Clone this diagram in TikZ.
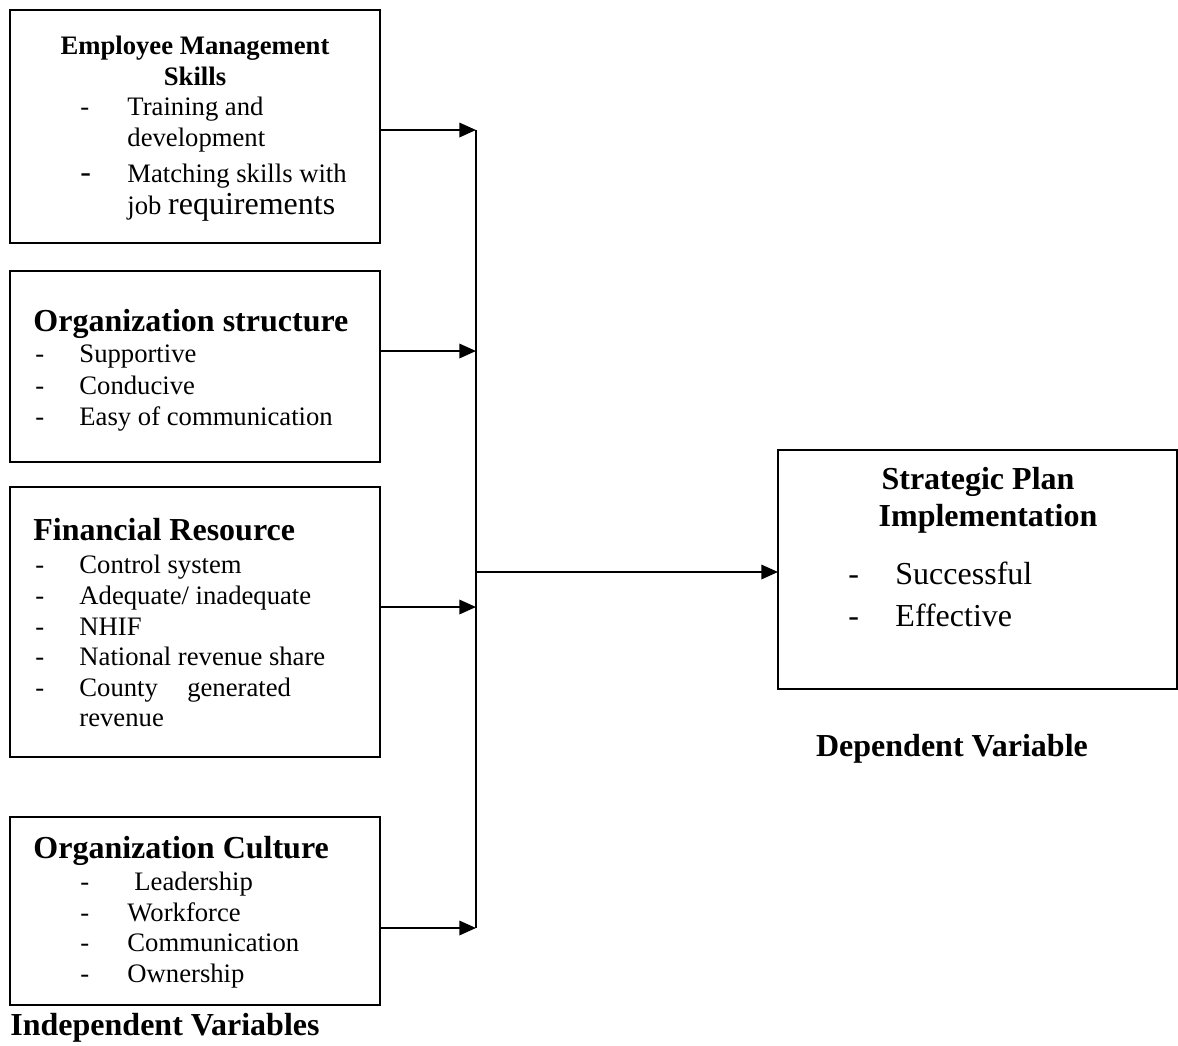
\documentclass[tikz,border=0pt]{standalone}
\usepackage{fontspec}
\setmainfont{Liberation Serif}
\usepackage{tikz}
\usetikzlibrary{arrows.meta,positioning}

\newcommand{\pxu}{0.45pt}
\newcommand{\bodyfont}{\fontsize{12}{14}\selectfont}
\newcommand{\bigfont}{\fontsize{14.4}{16}\selectfont}

\begin{document}
\begin{tikzpicture}[x=0.45pt, y=-0.45pt,
  box/.style={draw, rectangle, line width=1.1pt, inner sep=0pt, outer sep=0pt},
  head/.style={font=\bigfont\bfseries, inner sep=0pt, anchor=base west},
  subhead/.style={font=\bodyfont\bfseries, inner sep=0pt, anchor=base},
  item/.style={font=\bodyfont, inner sep=0pt, anchor=base west},
  bigitem/.style={font=\bigfont, inner sep=0pt, anchor=base west},
  link/.style={->, line width=0.9pt},
  >={Triangle[length=7.5pt,width=6.5pt]}]
\useasboundingbox (0,0) rectangle (1178,1046);
% Boxes
\node[box, minimum width=370*\pxu, minimum height=233*\pxu] (ems) at (195,126.5) {};
\node[box, minimum width=370*\pxu, minimum height=191*\pxu] (ost) at (195,366.5) {};
\node[box, minimum width=370*\pxu, minimum height=270*\pxu] (fin) at (195,622) {};
\node[box, minimum width=370*\pxu, minimum height=188*\pxu] (cul) at (195,911) {};
\node[box, minimum width=399*\pxu, minimum height=239*\pxu] (spi) at (977.5,569.5) {};
% Employee Management Skills
\node[subhead] (emsh1) at (195,54) {Employee Management};
\node[subhead] (emsh2) at (195,85) {Skills};
\node[item] (emsd1) at (80,115) {-};
\node[item] (emsi1) at (127,115) {Training and};
\node[item] (emsi1b) at (127,146) {development};
\node[bigitem] (emsd2) at (80,182) {-};
\node[item] (emsi2) at (127,182) {Matching skills with};
\node[item] (emsi2b) at (127,214) {job \bigfont requirements};
% Organization structure
\node[head] (osth) at (33,331) {Organization structure};
\node[item] (ostd1) at (35,362) {-};
\node[item] (osti1) at (79,362) {Supportive};
\node[item] (ostd2) at (35,394) {-};
\node[item] (osti2) at (79,394) {Conducive};
\node[item] (ostd3) at (35,425) {-};
\node[item] (osti3) at (79,425) {Easy of communication};
% Financial Resource
\node[head] (finh) at (33,540) {Financial Resource};
\node[item] (find1) at (35,573) {-};
\node[item] (fini1) at (79,573) {Control system};
\node[item] (find2) at (35,604) {-};
\node[item] (fini2) at (79,604) {Adequate/ inadequate};
\node[item] (find3) at (35,635) {-};
\node[item] (fini3) at (79,635) {NHIF};
\node[item] (find4) at (35,665) {-};
\node[item] (fini4) at (79,665) {National revenue share};
\node[item] (find5) at (35,696) {-};
\node[item] (fini5) at (79,696) {County\hspace{1.1em}generated};
\node[item] (fini5b) at (79,726) {revenue};
% Organization Culture
\node[head] (culh) at (33,858) {Organization Culture};
\node[item] (culd1) at (80,890) {-};
\node[item] (culi1) at (134,890) {Leadership};
\node[item] (culd2) at (80,921) {-};
\node[item] (culi2) at (127,921) {Workforce};
\node[item] (culd3) at (80,951) {-};
\node[item] (culi3) at (127,951) {Communication};
\node[item] (culd4) at (80,982) {-};
\node[item] (culi4) at (127,982) {Ownership};
% Strategic Plan Implementation
\node[font=\bigfont\bfseries, inner sep=0pt, anchor=base] (spih1) at (978,489) {Strategic Plan};
\node[font=\bigfont\bfseries, inner sep=0pt, anchor=base] (spih2) at (988,526) {Implementation};
\node[bigitem] (spid1) at (848,584) {-};
\node[bigitem] (spii1) at (895,584) {Successful};
\node[bigitem] (spid2) at (848,626) {-};
\node[bigitem] (spii2) at (895,626) {Effective};
% Captions
\node[font=\bigfont\bfseries, inner sep=0pt, anchor=base] (dep) at (952,756) {Dependent Variable};
\node[head] (indep) at (10,1035) {Independent Variables};
% Bus
\coordinate (b1) at (476,130);
\coordinate (b2) at (476,351);
\coordinate (b3) at (476,607);
\coordinate (b4) at (476,928);
\coordinate (bo) at (476,572);
\draw[line width=0.7pt] (b1) -- (b4);
% Arrows
\draw[link] (ems.east |- b1) -- (b1);
\draw[link] (ost.east |- b2) -- (b2);
\draw[link] (fin.east |- b3) -- (b3);
\draw[link] (cul.east |- b4) -- (b4);
\draw[link] (bo) -- (spi.west |- bo);
\end{tikzpicture}
\end{document}
